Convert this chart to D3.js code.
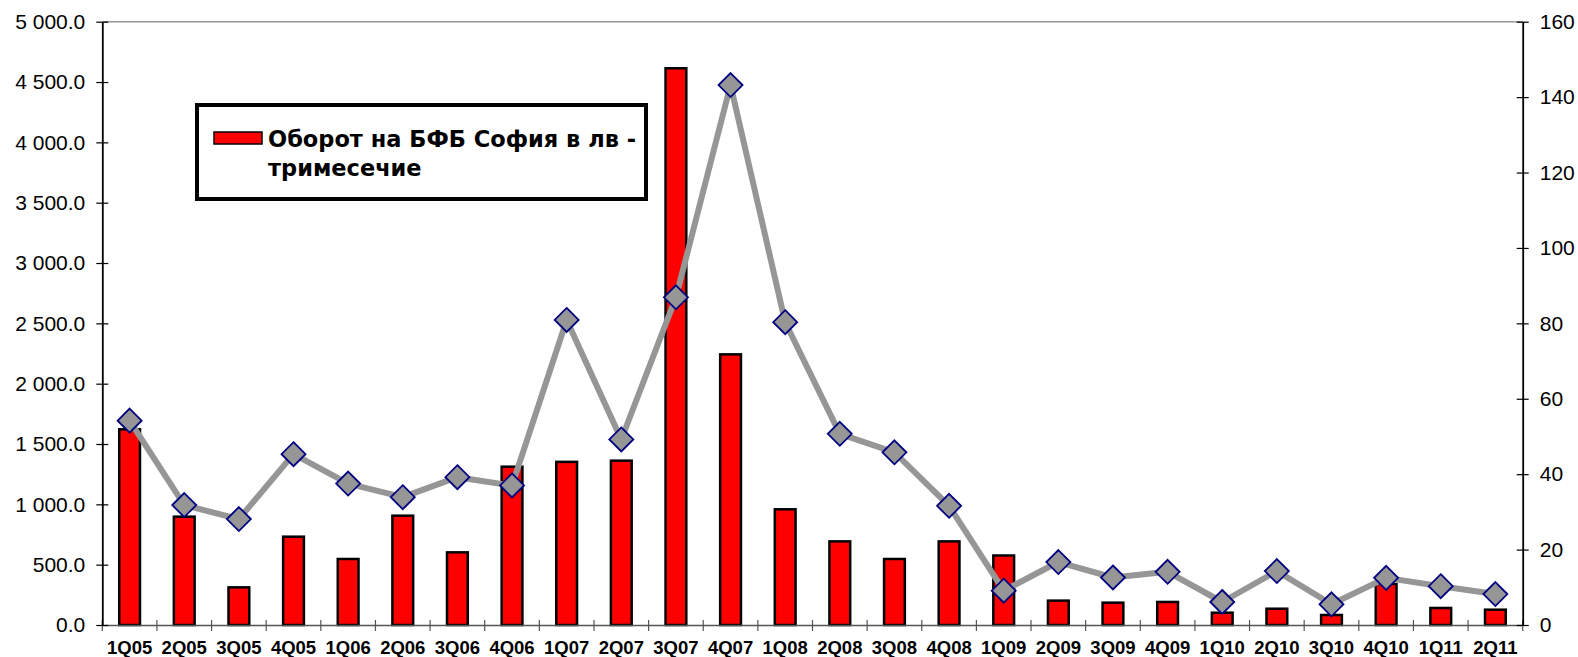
<!DOCTYPE html>
<html>
<head>
<meta charset="utf-8">
<script src="https://cdn.jsdelivr.net/npm/d3@7"></script>
<style>
  html, body { margin: 0; padding: 0; background: #fff; }
  svg { display: block; }
</style>
</head>
<body>
<div id="chart"></div>
<script>
// Quarters on the x axis
const quarters = ['1Q05', '2Q05', '3Q05', '4Q05', '1Q06', '2Q06', '3Q06', '4Q06',
  '1Q07', '2Q07', '3Q07', '4Q07', '1Q08', '2Q08', '3Q08', '4Q08',
  '1Q09', '2Q09', '3Q09', '4Q09', '1Q10', '2Q10', '3Q10', '4Q10', '1Q11', '2Q11'];

// Bars: turnover on BSE Sofia (left axis)
const turnover = [1622, 898, 312, 732, 547, 906, 602, 1312,
  1352, 1362, 4614, 2243, 959, 693, 547, 693,
  576, 202, 185, 191, 102, 135, 83, 340, 141, 127];

// Line: right axis series
const indexLine = [54.2, 31.8, 28.1, 45.3, 37.5, 33.9, 39.2, 37.0,
  80.9, 49.2, 86.9, 143.2, 80.3, 50.7, 45.8, 31.6,
  9.1, 16.7, 12.6, 14.1, 6.1, 14.3, 5.5, 12.5, 10.3, 8.2];

// Tick labels
const leftTicks = [0, 500, 1000, 1500, 2000, 2500, 3000, 3500, 4000, 4500, 5000];
const rightTicks = [0, 20, 40, 60, 80, 100, 120, 140, 160];

const legendLines = ['Оборот на БФБ София в лв -', 'тримесечие'];

const W = 1578, H = 657;
const plot = { left: 102.3, right: 1522.7, top: 21.7, bottom: 625 };

const svg = d3.select('#chart').append('svg')
  .attr('width', W)
  .attr('height', H)
  .attr('viewBox', `0 0 ${W} ${H}`);

const x = d3.scaleBand()
  .domain(quarters)
  .range([plot.left, plot.right])
  .padding(0);

const yL = d3.scaleLinear().domain([0, 5000]).range([plot.bottom, plot.top]);
const yR = d3.scaleLinear().domain([0, 160]).range([plot.bottom, plot.top]);

const fmt = d3.formatLocale({ decimal: '.', thousands: ' ', grouping: [3], currency: ['', ''] }).format(',.1f');

// top border of plot area
svg.append('line')
  .attr('x1', plot.left).attr('x2', plot.right)
  .attr('y1', plot.top).attr('y2', plot.top)
  .attr('stroke', '#999').attr('stroke-width', 1.5);

// Bars
const barFrac = 0.38;
svg.append('g')
  .selectAll('rect')
  .data(turnover)
  .join('rect')
  .attr('x', (d, i) => x(quarters[i]) + x.bandwidth() * (1 - barFrac) / 2)
  .attr('width', x.bandwidth() * barFrac)
  .attr('y', d => yL(d))
  .attr('height', d => yL(0) - yL(d))
  .attr('fill', '#ff0000')
  .attr('stroke', '#000')
  .attr('stroke-width', 2.5);

// X axis
const xAxisG = svg.append('g')
  .attr('transform', `translate(0,${plot.bottom})`)
  .call(d3.axisBottom(x).tickSize(0).tickPadding(16));
xAxisG.select('.domain').attr('stroke', '#555').attr('stroke-width', 1.5);
xAxisG.selectAll('text')
  .attr('fill', '#000')
  .attr('font-family', '"Liberation Sans", Arial, sans-serif')
  .attr('font-weight', 'bold')
  .attr('font-size', '18.5px');

// category boundary ticks
const bounds = quarters.map(q => x(q)).concat([plot.right]);
svg.append('g')
  .selectAll('line')
  .data(bounds)
  .join('line')
  .attr('x1', d => d).attr('x2', d => d)
  .attr('y1', plot.bottom - 5).attr('y2', plot.bottom + 6)
  .attr('stroke', '#555').attr('stroke-width', 1.2);

// Left axis
const leftG = svg.append('g')
  .attr('transform', `translate(${plot.left},0)`)
  .call(d3.axisLeft(yL).tickValues(leftTicks).tickFormat(fmt).tickSizeOuter(0).tickSizeInner(6).tickPadding(11));
leftG.select('.domain').attr('stroke', '#000').attr('stroke-width', 1.8);
leftG.selectAll('.tick line').attr('x1', 6).attr('stroke', '#000').attr('stroke-width', 1.2);
leftG.selectAll('text')
  .attr('fill', '#000')
  .attr('font-family', '"Liberation Sans", Arial, sans-serif')
  .attr('font-size', '21px');

// Right axis
const rightG = svg.append('g')
  .attr('transform', `translate(${plot.right},0)`)
  .call(d3.axisRight(yR).tickValues(rightTicks).tickFormat(d3.format('d')).tickSizeOuter(0).tickSizeInner(6).tickPadding(11));
rightG.select('.domain').attr('stroke', '#000').attr('stroke-width', 1.8);
rightG.selectAll('.tick line').attr('x1', -6).attr('stroke', '#000').attr('stroke-width', 1.2);
rightG.selectAll('text')
  .attr('fill', '#000')
  .attr('font-family', '"Liberation Sans", Arial, sans-serif')
  .attr('font-size', '21px');

// Line series
const cx = i => x(quarters[i]) + x.bandwidth() / 2;
const line = d3.line()
  .x((d, i) => cx(i))
  .y(d => yR(d));

svg.append('path')
  .datum(indexLine)
  .attr('d', line)
  .attr('fill', 'none')
  .attr('stroke', '#969696')
  .attr('stroke-width', 6)
  .attr('stroke-linejoin', 'round');

const r = 12;
svg.append('g')
  .selectAll('path')
  .data(indexLine)
  .join('path')
  .attr('transform', (d, i) => `translate(${cx(i)},${yR(d)})`)
  .attr('d', `M0,${-r}L${r},0L0,${r}L${-r},0Z`)
  .attr('fill', '#969696')
  .attr('stroke', '#000080')
  .attr('stroke-width', 1.8);

// Legend
const legend = svg.append('g');
legend.append('rect')
  .attr('x', 197).attr('y', 105)
  .attr('width', 449).attr('height', 94)
  .attr('fill', '#fff')
  .attr('stroke', '#000')
  .attr('stroke-width', 4);
legend.append('rect')
  .attr('x', 214).attr('y', 132)
  .attr('width', 48).attr('height', 12)
  .attr('fill', '#ff0000')
  .attr('stroke', '#000')
  .attr('stroke-width', 1.5);
legend.selectAll('text.leg')
  .data(legendLines)
  .join('text')
  .attr('class', 'leg')
  .attr('x', 268)
  .attr('y', (d, i) => 147 + i * 29)
  .attr('fill', '#000')
  .attr('font-family', '"DejaVu Sans", Verdana, sans-serif')
  .attr('font-weight', 'bold')
  .attr('font-size', '22.5px')
  .text(d => d);
</script>
</body>
</html>
